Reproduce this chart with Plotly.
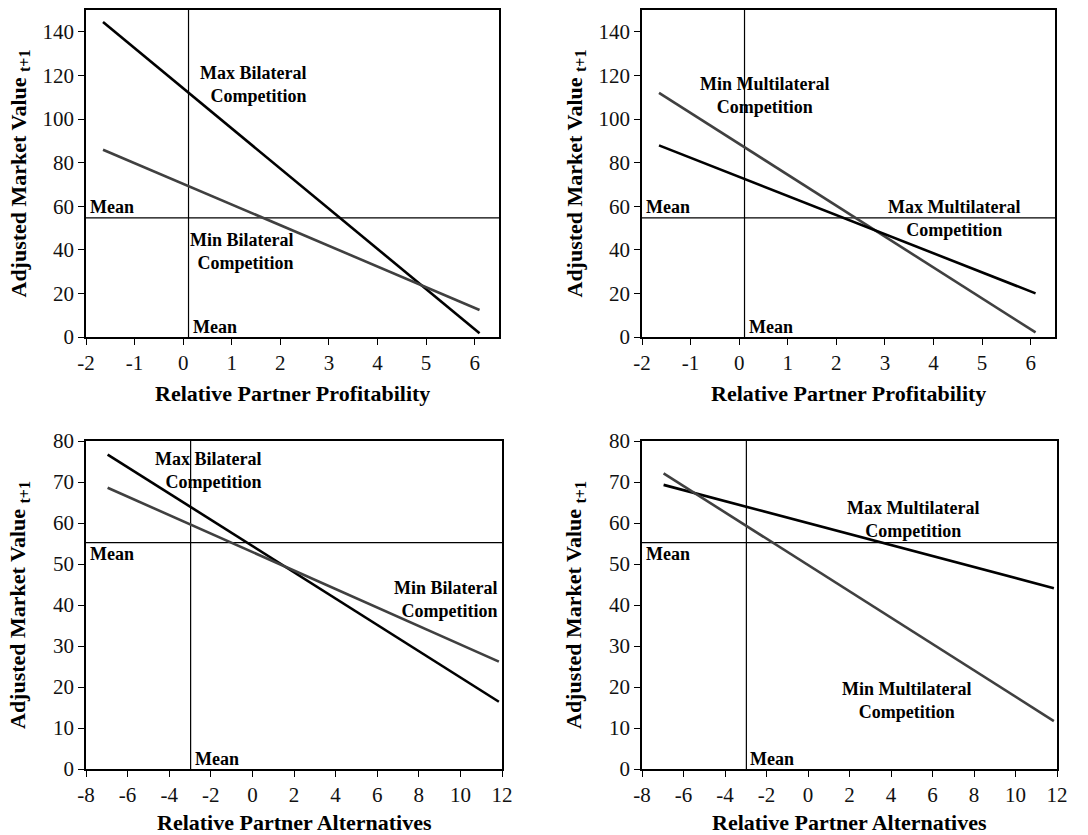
import plotly.graph_objects as go

# ---------------- data ----------------
# Panel A: Relative Partner Profitability, bilateral competition
prof_x = [-1.65, 6.1]
max_bilateral_prof = [144.5, 1.7]
min_bilateral_prof = [85.9, 12.4]
# Panel B: Relative Partner Profitability, multilateral competition
min_multilateral_prof = [112.0, 2.1]
max_multilateral_prof = [87.9, 20.0]
# Panel C: Relative Partner Alternatives, bilateral competition
alt_x = [-6.96, 11.85]
max_bilateral_alt = [76.7, 16.4]
min_bilateral_alt = [68.6, 26.2]
# Panel D: Relative Partner Alternatives, multilateral competition
max_multilateral_alt = [69.3, 44.1]
min_multilateral_alt = [72.1, 11.7]

mean_prof_x = 0.11
mean_alt_x = -2.97
mean_y_prof = 54.6
mean_y_alt = 55.2

prof_range = [-2, 6.5]
alt_range = [-8, 12]
prof_y_range = [0, 150]
alt_y_range = [0, 80]

prof_ticks = [-2, -1, 0, 1, 2, 3, 4, 5, 6]
prof_ticklabels = ["-2", "-1", "0", "1", "2", "3", "4", "5", "6"]
alt_ticks = [-8, -6, -4, -2, 0, 2, 4, 6, 8, 10, 12]
alt_ticklabels = ["-8", "-6", "-4", "-2", "0", "2", "4", "6", "8", "10", "12"]
prof_yticks = [0, 20, 40, 60, 80, 100, 120, 140]
alt_yticks = [0, 10, 20, 30, 40, 50, 60, 70, 80]

x_title_prof = "Relative Partner Profitability"
x_title_alt = "Relative Partner Alternatives"
y_title = "Adjusted Market Value <sub><span style='font-size:16px'>t+1</span></sub>"

FONT = "Liberation Serif, Times New Roman, serif"
BLACK = "#000000"
GRAY = "#404040"

W, H = 1088, 835
def xd(a, b):
    return [a / W, b / W]
def yd(top, bottom):
    return [1 - bottom / H, 1 - top / H]

fig = go.Figure()

panels = [
    dict(ax="", xr=prof_range, yr=prof_y_range, xt_v=prof_ticks, xt_t=prof_ticklabels,
         yt=prof_yticks, xdom=xd(86, 499), ydom=yd(10, 337), xt=x_title_prof, xty=393, ytx=19,
         lines=[(prof_x, max_bilateral_prof, BLACK, "Max Bilateral Competition"),
                (prof_x, min_bilateral_prof, GRAY, "Min Bilateral Competition")],
         mx=mean_prof_x, my=mean_y_prof, mean_above=True),
    dict(ax="2", xr=prof_range, yr=prof_y_range, xt_v=prof_ticks, xt_t=prof_ticklabels,
         yt=prof_yticks, xdom=xd(642, 1055), ydom=yd(10, 337), xt=x_title_prof, xty=393, ytx=575,
         lines=[(prof_x, min_multilateral_prof, GRAY, "Min Multilateral Competition"),
                (prof_x, max_multilateral_prof, BLACK, "Max Multilateral Competition")],
         mx=mean_prof_x, my=mean_y_prof, mean_above=True),
    dict(ax="3", xr=alt_range, yr=alt_y_range, xt_v=alt_ticks, xt_t=alt_ticklabels,
         yt=alt_yticks, xdom=xd(86, 502), ydom=yd(441, 769), xt=x_title_alt, xty=822, ytx=19,
         lines=[(alt_x, max_bilateral_alt, BLACK, "Max Bilateral Competition"),
                (alt_x, min_bilateral_alt, GRAY, "Min Bilateral Competition")],
         mx=mean_alt_x, my=mean_y_alt, mean_above=False),
    dict(ax="4", xr=alt_range, yr=alt_y_range, xt_v=alt_ticks, xt_t=alt_ticklabels,
         yt=alt_yticks, xdom=xd(642, 1057), ydom=yd(441, 769), xt=x_title_alt, xty=822, ytx=575,
         lines=[(alt_x, max_multilateral_alt, BLACK, "Max Multilateral Competition"),
                (alt_x, min_multilateral_alt, GRAY, "Min Multilateral Competition")],
         mx=mean_alt_x, my=mean_y_alt, mean_above=False),
]

annotations = []
for p in panels:
    xa, ya = "x" + p["ax"], "y" + p["ax"]
    # mean lines
    fig.add_trace(go.Scatter(x=[p["mx"], p["mx"]], y=p["yr"], mode="lines",
                             line=dict(color=BLACK, width=1.2), xaxis=xa, yaxis=ya,
                             showlegend=False, hoverinfo="skip"))
    fig.add_trace(go.Scatter(x=p["xr"], y=[p["my"], p["my"]], mode="lines",
                             line=dict(color=BLACK, width=1.2), xaxis=xa, yaxis=ya,
                             showlegend=False, hoverinfo="skip"))
    for xs, ys, col, name in p["lines"]:
        fig.add_trace(go.Scatter(x=xs, y=ys, mode="lines", name=name,
                                 line=dict(color=col, width=2.6), xaxis=xa, yaxis=ya,
                                 showlegend=False))
    xkey = "xaxis" + p["ax"]
    ykey = "yaxis" + p["ax"]
    fig.update_layout(**{
        xkey: dict(domain=p["xdom"], range=p["xr"], anchor=ya,
                   tickmode="array", tickvals=p["xt_v"], ticktext=p["xt_t"],
                   showline=True, mirror=True, linecolor=BLACK, linewidth=1.5,
                   ticks="outside", ticklen=6, tickcolor=BLACK, tickwidth=1,
                   showgrid=False, zeroline=False, automargin=False,
                   tickfont=dict(family=FONT, size=21, color="#111")),
        ykey: dict(domain=p["ydom"], range=p["yr"], anchor=xa,
                   tickmode="array", tickvals=p["yt"],
                   showline=True, mirror=True, linecolor=BLACK, linewidth=1.5,
                   ticks="outside", ticklen=6, tickcolor=BLACK, tickwidth=1,
                   showgrid=False, zeroline=False, automargin=False,
                   tickfont=dict(family=FONT, size=21, color="#111")),
    })
    # axis titles as paper annotations
    annotations.append(dict(x=(p["xdom"][0] + p["xdom"][1]) / 2, y=1 - p["xty"] / H,
                            xref="paper", yref="paper", text="<b>" + p["xt"] + "</b>",
                            showarrow=False, xanchor="center", yanchor="middle",
                            fontsize=22, borderpad=0))
    annotations.append(dict(x=p["ytx"] / W, y=(p["ydom"][0] + p["ydom"][1]) / 2,
                            xref="paper", yref="paper", text="<b>" + y_title + "</b>",
                            textangle=-90, showarrow=False, xanchor="center",
                            yanchor="middle", fontsize=22, borderpad=0))
    # Mean labels
    annotations.append(dict(x=p["xr"][0], y=p["my"], xref=xa, yref=ya, text="<b>Mean</b>",
                            showarrow=False, xanchor="left", xshift=2,
                            yanchor="bottom" if p["mean_above"] else "top",
                            yshift=-1 if p["mean_above"] else 1))
    annotations.append(dict(x=p["mx"], y=0, xref=xa, yref=ya, text="<b>Mean</b>",
                            showarrow=False, xanchor="left", yanchor="bottom", xshift=2, yshift=-2))

# competition labels
labels = [
    ("", 2.57, 116, "Max Bilateral<br>Competition", "right"),
    ("", 2.31, 39, "Min Bilateral<br>Competition", "right"),
    ("2", 0.53, 111, "Min Multilateral<br>Competition", "center"),
    ("2", 4.42, 54.3, "Max Multilateral<br>Competition", "center"),
    ("3", 0.53, 72.8, "Max Bilateral<br>Competition", "right"),
    ("3", 11.84, 41.4, "Min Bilateral<br>Competition", "right"),
    ("4", 5.05, 60.9, "Max Multilateral<br>Competition", "center"),
    ("4", 4.76, 16.8, "Min Multilateral<br>Competition", "center"),
]
for ax, x, y, t, al in labels:
    annotations.append(dict(x=x, y=y, xref="x" + ax, yref="y" + ax,
                            text="<b>" + t.replace("<br>", "</b><br><b>") + "</b>",
                            showarrow=False, xanchor=al, yanchor="middle", align=al))

for a in annotations:
    size = a.pop("fontsize", 18)
    a["font"] = dict(family=FONT, size=size, color=BLACK)

fig.update_layout(width=W, height=H, margin=dict(l=0, r=0, t=0, b=0, autoexpand=False),
                  paper_bgcolor="white", plot_bgcolor="white",
                  annotations=annotations, showlegend=False,
                  font=dict(family=FONT, color=BLACK))

fig.write_html("out.html", config={"displayModeBar": False},
               post_script="document.body.style.margin='0';"
                           "document.body.style.overflow='hidden';")
